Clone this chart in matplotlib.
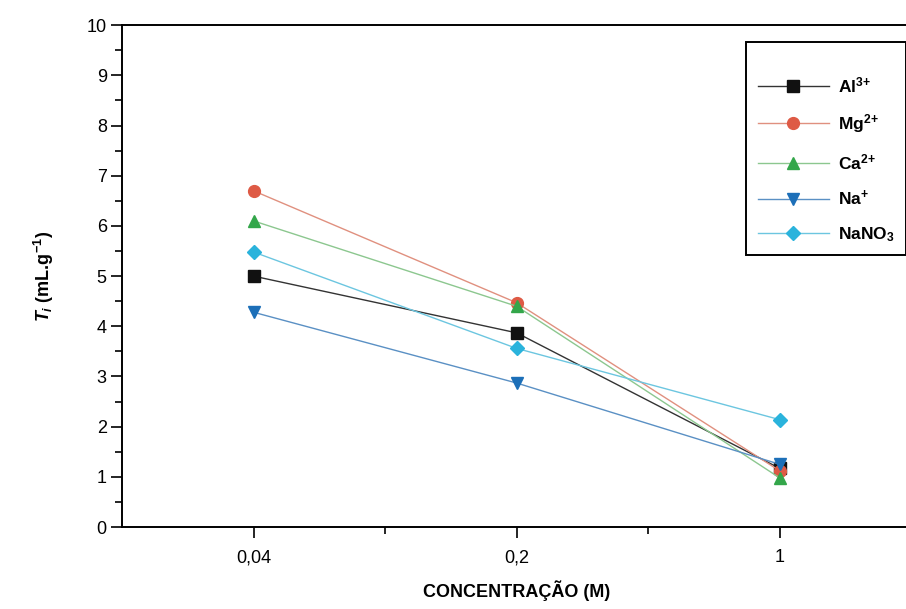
import matplotlib.pyplot as plt
from matplotlib.ticker import MultipleLocator, FixedLocator

plt.rcParams["font.family"] = ["Liberation Sans", "DejaVu Sans"]
plt.rcParams["mathtext.fontset"] = "custom"
plt.rcParams["mathtext.rm"] = "Liberation Sans:bold"
plt.rcParams["mathtext.it"] = "Liberation Sans:bold:italic"
plt.rcParams["mathtext.bf"] = "Liberation Sans:bold"

# concentration categories (M) and Ti values (mL/g) for each electrolyte
concentrations = ["0,04", "0,2", "1"]
al = [5.0, 3.87, 1.17]
mg = [6.7, 4.47, 1.12]
ca = [6.1, 4.4, 0.98]
na = [4.28, 2.87, 1.25]
nano3 = [5.48, 3.56, 2.14]

series = [
    ("Al$^{3{+}}$", al, "s", "#111111", "#333333"),
    ("Mg$^{2{+}}$", mg, "o", "#de5a45", "#e0907f"),
    ("Ca$^{2{+}}$", ca, "^", "#33a64a", "#8cc78f"),
    ("Na$^{{+}}$", na, "v", "#1c6fb8", "#5a90c4"),
    ("NaNO$_3$", nano3, "D", "#2ab3dc", "#6cc6e0"),
]

fig = plt.figure(figsize=(9.06, 6.09), dpi=100)
ax = fig.add_axes([0.1347, 0.1346, 0.871, 0.824])

x = [1, 2, 3]
for label, vals, marker, mcolor, lcolor in series:
    ax.plot(x, vals, color=lcolor, lw=1.0, marker=marker,
            markersize=8.5 if marker != "D" else 7.5,
            markerfacecolor=mcolor, markeredgecolor=mcolor, label=label)

ax.set_xlim(0.5, 3.5)
ax.set_ylim(0, 10)
ax.xaxis.set_major_locator(FixedLocator(x))
ax.set_xticklabels(concentrations)
ax.xaxis.set_minor_locator(FixedLocator([1.5, 2.5]))
ax.yaxis.set_major_locator(MultipleLocator(1))
ax.yaxis.set_minor_locator(MultipleLocator(0.5))

ax.tick_params(which="both", direction="out", width=1.2, labelsize=13)
ax.tick_params(which="major", length=8)
ax.tick_params(which="minor", length=5)
ax.tick_params(axis="x", which="major", pad=8)
ax.tick_params(axis="y", which="major", pad=3)
ax.tick_params(axis="y", which="both", right=False)
ax.tick_params(axis="x", which="both", top=False)
for s in ax.spines.values():
    s.set_linewidth(1.4)

ax.set_xlabel("CONCENTRAÇÃO (M)", fontsize=13, fontweight="bold", labelpad=10)
ax.set_ylabel("$T_i$ (mL.g$^{-1}$)", fontsize=13, fontweight="bold", labelpad=22)

# blank title row gives the extra room above the first entry
leg = ax.legend(loc="upper right", bbox_to_anchor=(0.9995, 0.931),
                bbox_transform=fig.transFigure, fancybox=False, framealpha=1,
                edgecolor="black", handlelength=4.1, labelspacing=0.98,
                borderpad=0.65, handletextpad=0.5, borderaxespad=0,
                title=" ", title_fontsize=4,
                prop={"size": 12.5, "weight": "bold"})
leg.get_frame().set_linewidth(1.4)

fig.savefig("out.png", dpi=100)
